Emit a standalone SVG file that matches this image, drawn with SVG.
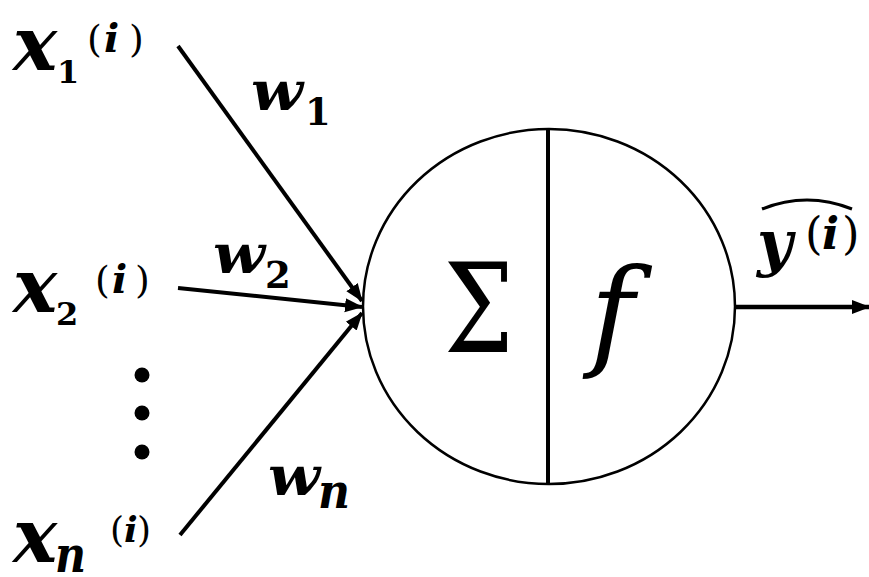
<svg xmlns="http://www.w3.org/2000/svg" width="869" height="577" viewBox="0 0 869 577">
<style>
text{font-family:"DejaVu Serif",serif;fill:#000}
.bi{font-weight:bold;font-style:italic}
.b{font-weight:bold}
</style>
<defs>
<marker id="ah" markerUnits="userSpaceOnUse" markerWidth="20" markerHeight="16" refX="17" refY="8" orient="auto">
<path d="M0,1 L18,8 L0,15 Z" fill="#000"/>
</marker>
</defs>
<g id="connectors" stroke="#000" stroke-width="4" fill="none">
<line x1="178" y1="46" x2="362" y2="301" marker-end="url(#ah)"/>
<line x1="178" y1="288" x2="362" y2="307" marker-end="url(#ah)"/>
<line x1="180" y1="535" x2="362" y2="313" marker-end="url(#ah)"/>
<line x1="735" y1="307" x2="869" y2="307" stroke-width="4.5" marker-end="url(#ah)"/>
</g>
<g id="neuron">
<ellipse cx="549" cy="306.5" rx="186" ry="177.5" fill="none" stroke="#000" stroke-width="2.5"/>
<line x1="548" y1="129" x2="548" y2="484" stroke="#000" stroke-width="4"/>
<text transform="translate(448,352) scale(0.8,1)" x="-5" y="0" font-size="123">Σ</text>
<text x="590" y="354" font-style="italic" font-size="120">f</text>
</g>
<g id="x1">
<text class="bi" x="13" y="70" font-size="74">x</text>
<text class="b" x="57" y="83" font-size="32">1</text>
<text x="87" y="52" font-size="38">(</text>
<text class="bi" x="104" y="52" font-size="40">i</text>
<text x="129" y="52" font-size="38">)</text>
</g>
<g id="x2">
<text class="bi" x="13" y="312" font-size="74">x</text>
<text class="b" x="56" y="325" font-size="32">2</text>
<text x="95" y="293" font-size="38">(</text>
<text class="bi" x="112" y="293" font-size="40">i</text>
<text x="135" y="293" font-size="38">)</text>
</g>
<g id="dots" fill="#000">
<circle cx="142" cy="375" r="7.5"/>
<circle cx="142" cy="413" r="7.5"/>
<circle cx="142" cy="452" r="7.5"/>
</g>
<g id="xn">
<text class="bi" x="13" y="562" font-size="74">x</text>
<text class="bi" x="55" y="572" font-size="50" textLength="31" lengthAdjust="spacingAndGlyphs">n</text>
<text x="110" y="542" font-size="36">(</text>
<text class="bi" x="124" y="542" font-size="36">i</text>
<text x="137" y="542" font-size="36">)</text>
</g>
<g id="w1">
<text class="bi" x="251" y="110" font-size="54" textLength="52" lengthAdjust="spacingAndGlyphs">w</text>
<text class="b" x="305" y="125" font-size="37">1</text>
</g>
<g id="w2">
<text class="bi" x="213" y="273" font-size="54" textLength="52" lengthAdjust="spacingAndGlyphs">w</text>
<text class="b" x="265" y="288" font-size="37">2</text>
</g>
<g id="wn">
<text class="bi" x="268" y="495" font-size="54" textLength="52" lengthAdjust="spacingAndGlyphs">w</text>
<text class="bi" x="318" y="508" font-size="48" textLength="32" lengthAdjust="spacingAndGlyphs">n</text>
</g>
<g id="yhat">
<text class="bi" x="757" y="264" font-size="61">y</text>
<text x="805" y="249" font-size="45">(</text>
<text class="bi" x="822" y="249" font-size="45">i</text>
<text x="842" y="249" font-size="45">)</text>
<path d="M762,209 Q807,191 852,209" fill="none" stroke="#000" stroke-width="3"/>
</g>
</svg>
